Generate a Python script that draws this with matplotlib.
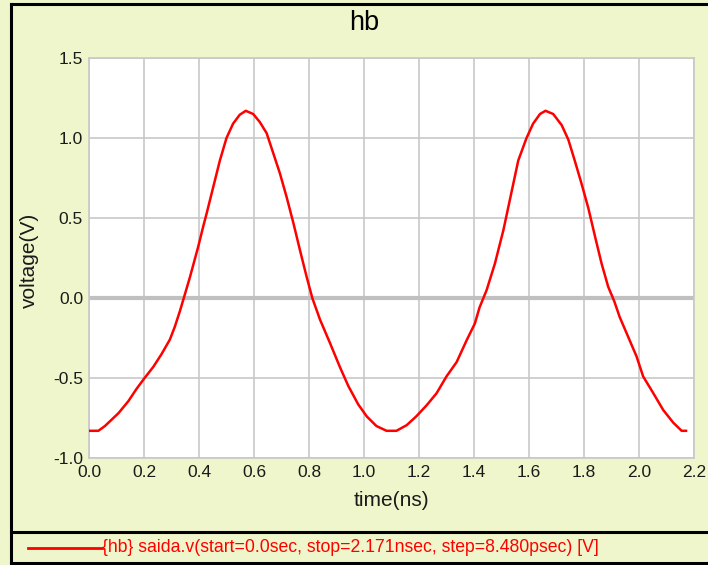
import matplotlib
matplotlib.use("Agg")
import matplotlib.pyplot as plt
from matplotlib.lines import Line2D

# ---- data ----
time_ns = [0.000, 0.034, 0.058, 0.107, 0.143, 0.172, 0.200, 0.234, 0.264, 0.294,
           0.312, 0.330, 0.343, 0.367, 0.397, 0.415, 0.428, 0.452, 0.476, 0.500,
           0.524, 0.548, 0.570, 0.597, 0.621, 0.646, 0.670, 0.694, 0.718, 0.743,
           0.767, 0.791, 0.812, 0.840, 0.876, 0.912, 0.943, 0.979, 1.010, 1.045,
           1.082, 1.118, 1.155, 1.190, 1.228, 1.264, 1.300, 1.337, 1.373, 1.403,
           1.420, 1.446, 1.476, 1.507, 1.525, 1.543, 1.561, 1.591, 1.615, 1.640,
           1.660, 1.688, 1.719, 1.743, 1.767, 1.791, 1.816, 1.840, 1.864, 1.888,
           1.910, 1.930, 1.955, 1.991, 2.015, 2.052, 2.088, 2.125, 2.155, 2.171]
voltage = [-0.83, -0.83, -0.80, -0.72, -0.645, -0.57, -0.505, -0.43, -0.35, -0.26,
           -0.18, -0.085, -0.01, 0.13, 0.32, 0.445, 0.53, 0.695, 0.86, 1.00,
           1.09, 1.145, 1.17, 1.15, 1.10, 1.03, 0.905, 0.78, 0.635, 0.47,
           0.30, 0.135, 0.00, -0.135, -0.28, -0.43, -0.55, -0.665, -0.74, -0.80,
           -0.83, -0.83, -0.795, -0.74, -0.67, -0.595, -0.49, -0.40, -0.265, -0.16,
           -0.06, 0.05, 0.215, 0.425, 0.57, 0.715, 0.86, 1.00, 1.09, 1.15,
           1.17, 1.15, 1.08, 0.99, 0.855, 0.715, 0.56, 0.385, 0.215, 0.07,
           -0.02, -0.12, -0.22, -0.365, -0.49, -0.595, -0.70, -0.78, -0.83, -0.83]
x_ticks = [0.0, 0.2, 0.4, 0.6, 0.8, 1.0, 1.2, 1.4, 1.6, 1.8, 2.0, 2.2]
y_ticks = [-1.0, -0.5, 0.0, 0.5, 1.0, 1.5]
title = "hb"
x_label = "time(ns)"
y_label = "voltage(V)"
legend_text = "{hb} saida.v(start=0.0sec, stop=2.171nsec, step=8.480psec) [V]"

plt.rcParams['font.family'] = ['Liberation Sans', 'DejaVu Sans']

W, H = 708, 565
bg = '#F0F6CB'
fig = plt.figure(figsize=(W / 100, H / 100), dpi=100, facecolor=bg)

def fx(px):
    return px / W

def fy(py):
    return 1 - py / H

ax = fig.add_axes([fx(89), fy(458), fx(694) - fx(89), fy(58) - fy(458)])
ax.set_facecolor('white')
ax.set_xlim(0, 2.2)
ax.set_ylim(-1.0, 1.5)
ax.set_xticks(x_ticks)
ax.set_yticks(y_ticks)
ax.set_xticklabels([f"{v:.1f}" for v in x_ticks])
ax.set_yticklabels([f"{v:.1f}" for v in y_ticks])
ax.tick_params(length=0, labelsize=12.5, colors='#1a1a1a')
ax.tick_params(axis='x', pad=5.0)
ax.tick_params(axis='y', pad=4.3)
ax.grid(True, color='#C8C8C8', linewidth=1.2)
ax.set_axisbelow(True)
for s in ax.spines.values():
    s.set_color('#C8C8C8')
    s.set_linewidth(1.2)
ax.axhline(0, color='#C0C0C0', linewidth=3, zorder=1.5)

ax.plot(time_ns, voltage, color='#FF0000', linewidth=1.8, zorder=3,
        solid_joinstyle='round')

fig.text(fx(364), fy(23), title, ha='center', va='center', fontsize=19.5, color='black')
fig.text(fx(391), fy(500), x_label, ha='center', va='center', fontsize=15, color='#1a1a1a')
fig.text(fx(29.5), fy(260), y_label, ha='center', va='center', rotation=90, fontsize=15, color='#1a1a1a')

# frame and legend separator
lc = 'black'
fig.add_artist(Line2D([fx(11), fx(708)], [fy(4), fy(4)], color=lc, linewidth=2.2))
fig.add_artist(Line2D([fx(11), fx(11)], [fy(4), fy(563)], color=lc, linewidth=2.2))
fig.add_artist(Line2D([fx(11), fx(708)], [fy(532), fy(532)], color=lc, linewidth=2.2))
fig.add_artist(Line2D([fx(11), fx(708)], [fy(563), fy(563)], color=lc, linewidth=2.2))

# legend
fig.add_artist(Line2D([fx(28), fx(102)], [fy(548), fy(548)], color='#FF0000', linewidth=2))
fig.text(fx(102), fy(547), legend_text, ha='left', va='center', fontsize=12.7, color='#FF0000')

fig.savefig('out.png', dpi=100, facecolor=bg)
